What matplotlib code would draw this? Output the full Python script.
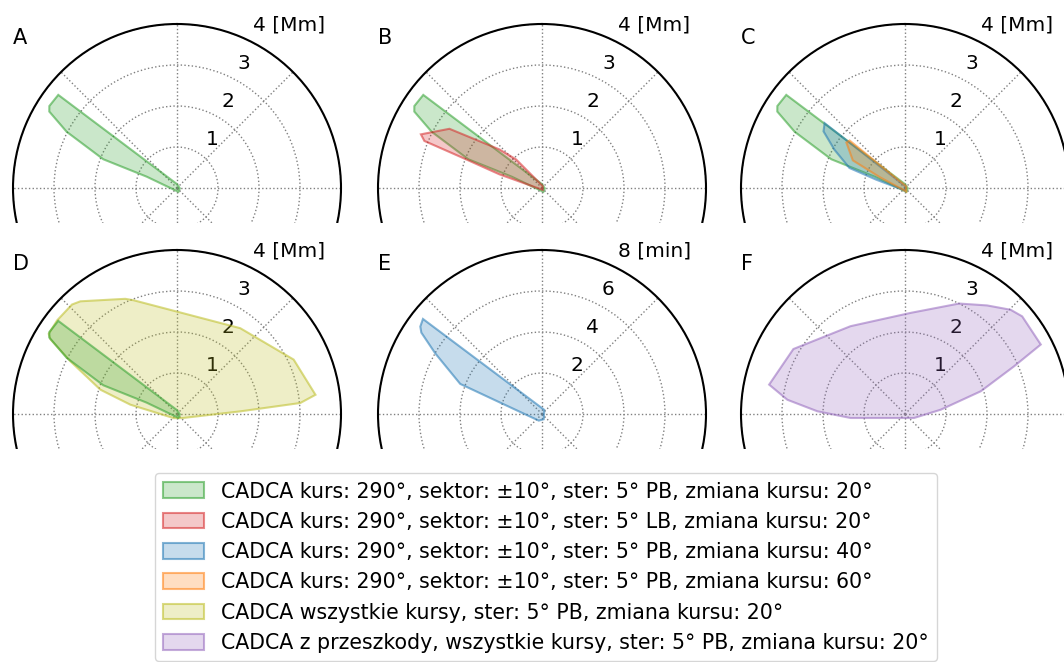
import numpy as np
import matplotlib.pyplot as plt
from matplotlib.patches import Patch, Rectangle
from matplotlib.colors import to_rgba
from matplotlib.transforms import ScaledTranslation

# polygons: compass bearing [deg] and distance [Mm] (panel E: time [min])
green_theta = [356, 308.1, 302.7, 300.9, 297.0, 291.3, 290.5, 160, 96]
green_r = [0.10, 3.68, 3.70, 3.63, 3.02, 1.93, 0.79, 0.10, 0.07]

red_theta = [20, 317.8, 312.2, 302.6, 293.9, 291.8, 290.9, 287.8, 160]
red_r = [0.05, 0.94, 1.40, 2.68, 3.23, 3.09, 2.12, 1.09, 0.05]

blue_theta = [17, 308.9, 304.8, 298.5, 289.8, 286.1, 190]
blue_r = [0.04, 2.52, 2.42, 1.96, 1.44, 0.73, 0.06]

orange_theta = [37, 310.6, 307.8, 297.9, 293.3, 161]
orange_r = [0.05, 1.78, 1.81, 1.44, 0.68, 0.09]

olive_theta = [128.7, 87.6, 84.9, 82.1, 65.0, 36.4, 339.1, 335.8, 319.4, 316.2,
               308.0, 302.0, 300.6, 296.3, 287.6, 281.3, 219.5]
olive_r = [0.16, 1.55, 3.02, 3.41, 3.14, 2.60, 2.97, 3.08, 3.62, 3.70,
           3.71, 3.69, 3.59, 2.90, 1.96, 1.16, 0.13]

time_theta = [30, 308.6, 305.7, 304.0, 299.6, 290.2, 285.2, 206, 162]
time_min = [0.23, 7.43, 7.31, 7.10, 5.99, 4.25, 2.11, 0.36, 0.27]

purple_theta = [282.2, 300.2, 328.2, 3.2, 26.1, 37.1, 45.4, 50.2, 62.9, 66.4,
                73.3, 83.1, 114, 265.8, 271.8, 276.9]
purple_r = [3.39, 3.15, 2.52, 2.47, 3.00, 3.32, 3.62, 3.72, 3.72, 2.90,
            1.93, 0.88, 0.24, 1.33, 2.14, 2.89]

colors = ['tab:green', 'tab:red', 'tab:blue', 'tab:orange', 'tab:olive', 'tab:purple']
labels = [
    'CADCA kurs: 290°, sektor: ±10°, ster: 5° PB, zmiana kursu: 20°',
    'CADCA kurs: 290°, sektor: ±10°, ster: 5° LB, zmiana kursu: 20°',
    'CADCA kurs: 290°, sektor: ±10°, ster: 5° PB, zmiana kursu: 40°',
    'CADCA kurs: 290°, sektor: ±10°, ster: 5° PB, zmiana kursu: 60°',
    'CADCA wszystkie kursy, ster: 5° PB, zmiana kursu: 20°',
    'CADCA z przeszkody, wszystkie kursy, ster: 5° PB, zmiana kursu: 20°',
]

W, H = 1064, 662
R_PX = 164
fig = plt.figure(figsize=(W / 100, H / 100), dpi=100)
label_shift = ScaledTranslation(0.13, 0.015, fig.dpi_scale_trans)


def panel(cx, cy, letter, rmax, unit, z):
    ax = fig.add_axes([(cx - R_PX) / W, (H - cy - R_PX) / H, 2 * R_PX / W, 2 * R_PX / H],
                      projection='polar')
    ax.set_zorder(z)
    ax.set_theta_zero_location('N')
    ax.set_theta_direction(-1)
    ax.set_ylim(0, rmax)
    ticks = np.linspace(rmax / 4, rmax, 4)
    lab = ['%g' % t for t in ticks]
    lab[-1] += ' [%s]' % unit
    ax.set_yticks(ticks)
    ax.set_yticklabels(lab, fontsize=14.5)
    ax.set_xticks(np.deg2rad(np.arange(0, 360, 45)))
    ax.set_xticklabels([])
    ax.grid(True, color='0.5', ls=':', lw=1)
    ax.spines['polar'].set_linewidth(1.5)
    ax.set_axisbelow(True)
    ax.set_rlabel_position(22.5)
    for t in ax.get_yticklabels():
        t.set_transform(t.get_transform() + label_shift)
    ax.text(0.0, 0.957, letter, transform=ax.transAxes, fontsize=15, ha='left', va='center')
    return ax


def draw(ax, th, r, c):
    ax.fill(np.deg2rad(th), r, facecolor=to_rgba(c, 0.25), edgecolor=to_rgba(c, 0.55), lw=1.5)


axA = panel(177, 188, 'A', 4, 'Mm', 1)
draw(axA, green_theta, green_r, colors[0])

axB = panel(542, 188, 'B', 4, 'Mm', 1)
draw(axB, green_theta, green_r, colors[0])
draw(axB, red_theta, red_r, colors[1])

axC = panel(905, 188, 'C', 4, 'Mm', 1)
draw(axC, green_theta, green_r, colors[0])
draw(axC, blue_theta, blue_r, colors[2])
draw(axC, orange_theta, orange_r, colors[3])

# cover the lower part of the first row
fig.add_artist(Rectangle((0, 0), 1, (H - 223) / H, transform=fig.transFigure,
                         facecolor='white', edgecolor='none', zorder=2))

axD = panel(177, 414, 'D', 4, 'Mm', 3)
draw(axD, olive_theta, olive_r, colors[4])
draw(axD, green_theta, green_r, colors[0])

axE = panel(542, 414, 'E', 8, 'min', 3)
draw(axE, time_theta, time_min, colors[2])

axF = panel(905, 414, 'F', 4, 'Mm', 3)
draw(axF, purple_theta, purple_r, colors[5])

fig.add_artist(Rectangle((0, 0), 1, (H - 449) / H, transform=fig.transFigure,
                         facecolor='white', edgecolor='none', zorder=4))

handles = [Patch(facecolor=to_rgba(c, 0.25), edgecolor=to_rgba(c, 0.55), lw=1.5) for c in colors]
leg = fig.legend(handles, labels, loc='upper center', bbox_to_anchor=(546 / W, 1 - 463 / H),
                 fontsize=14.8, handlelength=2.0, handleheight=0.8, handletextpad=0.8,
                 labelspacing=0.5)
leg.set_zorder(5)

fig.savefig('out.png', dpi=100)
